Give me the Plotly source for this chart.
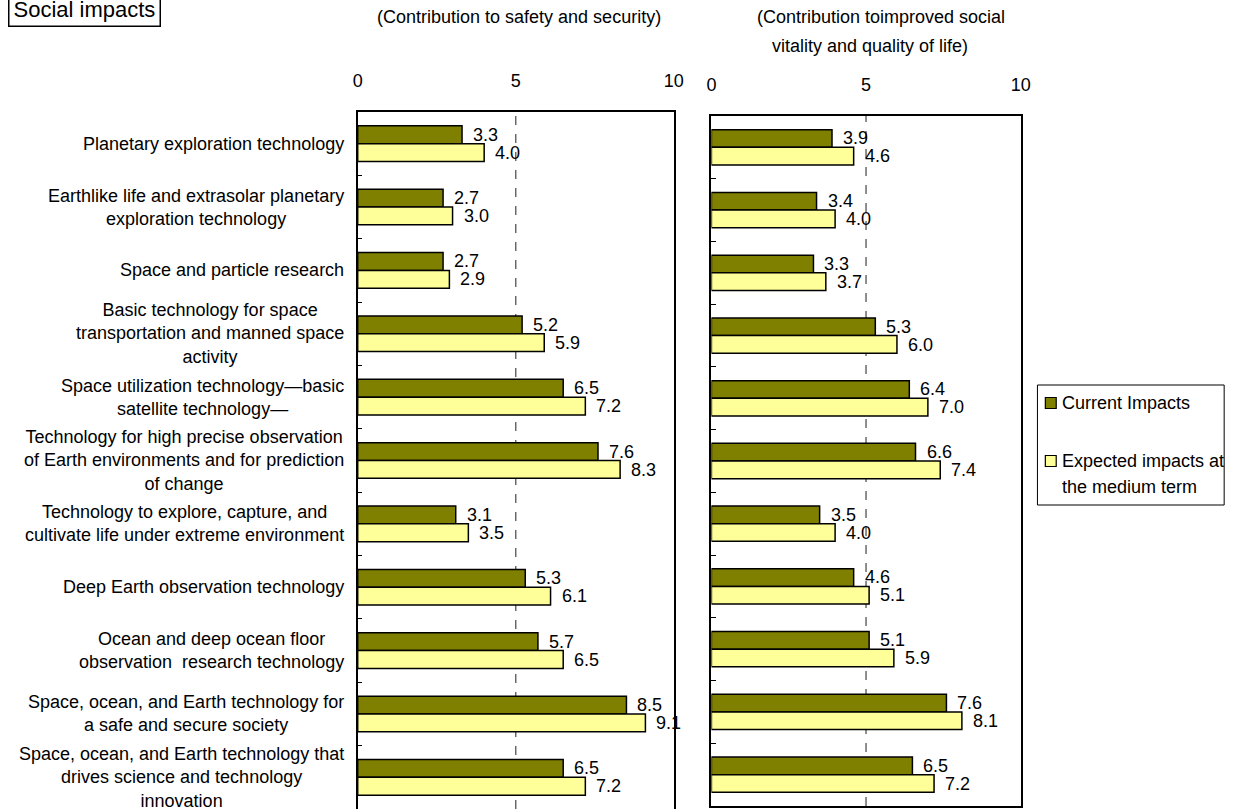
import plotly.graph_objects as go

# Technology areas (rows, top to bottom)
categories = [
    "Planetary exploration technology",
    "Earthlike life and extrasolar planetary<br>exploration technology",
    "Space and particle research",
    "Basic technology for space<br>transportation and manned space<br>activity",
    "Space utilization technology\u2014basic<br>satellite technology\u2014",
    "Technology for high precise observation<br>of Earth environments and for prediction<br>of change",
    "Technology to explore, capture, and<br>cultivate life under extreme environment",
    "Deep Earth observation technology",
    "Ocean and deep ocean floor<br>observation  research technology",
    "Space, ocean, and Earth technology for<br>a safe and secure society",
    "Space, ocean, and Earth technology that<br>drives science and technology<br>innovation",
]

# Contribution to safety and security
safety_current = [3.3, 2.7, 2.7, 5.2, 6.5, 7.6, 3.1, 5.3, 5.7, 8.5, 6.5]
safety_expected = [4.0, 3.0, 2.9, 5.9, 7.2, 8.3, 3.5, 6.1, 6.5, 9.1, 7.2]

# Contribution to improved social vitality and quality of life
vitality_current = [3.9, 3.4, 3.3, 5.3, 6.4, 6.6, 3.5, 4.6, 5.1, 7.6, 6.5]
vitality_expected = [4.6, 4.0, 3.7, 6.0, 7.0, 7.4, 4.0, 5.1, 5.9, 8.1, 7.2]

series_names = ["Current Impacts", "Expected impacts at the medium term"]
x_ticks = [0, 5, 10]
panel_titles = [
    "(Contribution to safety and security)",
    "(Contribution toimproved social",
    "vitality and quality of life)",
]

W, H = 1248, 809
FONT = "Liberation Sans, Arial, sans-serif"
OLIVE = "#808000"
PALE = "#FFFF99"
colors = [OLIVE, PALE]
TXT = 18


def px(x):
    return x / W


def py(y):
    return 1 - y / H


fig = go.Figure()

panels = [
    ("x", "y", [safety_current, safety_expected]),
    ("x2", "y2", [vitality_current, vitality_expected]),
]

annotations = []
for xa, ya, series in panels:
    for k, vals in enumerate(series):
        fig.add_trace(go.Bar(
            y=categories, x=vals, orientation="h",
            name=series_names[k],
            marker=dict(color=colors[k], line=dict(color="black", width=1.5)),
            xaxis=xa, yaxis=ya, showlegend=False,
        ))
        for cat, v in zip(categories, vals):
            annotations.append(dict(
                x=v, y=cat, xref=xa, yref=ya, text=f"{v:.1f}",
                showarrow=False, xanchor="left", yanchor="middle",
                xshift=9, yshift=9 if k == 0 else -9,
                font=dict(family=FONT, size=TXT, color="black"),
            ))

# row labels (lines centred within a right-aligned block)
for cat in categories:
    annotations.append(dict(
        x=px(345), y=cat, xref="paper", yref="y", text=cat,
        showarrow=False, xanchor="right", yanchor="middle", align="center",
        font=dict(family=FONT, size=TXT, color="black"),
    ))

# panel headings
heading_pos = [(520, 17), (887, 17), (876, 46)]
for text, (hx, hy) in zip(panel_titles, heading_pos):
    annotations.append(dict(x=px(hx), y=py(hy), xref="paper", yref="paper",
                            text=text, showarrow=False,
                            xanchor="center", yanchor="middle",
                            font=dict(family=FONT, size=TXT, color="black")))

# section tag
annotations.append(dict(x=px(3), y=py(27), xref="paper", yref="paper",
                        text="Social impacts", showarrow=False,
                        xanchor="left", yanchor="bottom",
                        bordercolor="black", borderwidth=1.5, borderpad=4,
                        font=dict(family=FONT, size=22, color="black")))

# legend (box, swatches and labels)
shapes = [dict(type="rect", xref="paper", yref="paper",
               x0=px(1045), x1=px(1234), y0=py(505), y1=py(385),
               line=dict(color="black", width=1), fillcolor="white")]
legend_rows = [(403, [series_names[0]]), (461, ["Expected impacts at", "the medium term"])]
for k, (yc, lines) in enumerate(legend_rows):
    shapes.append(dict(type="rect", xref="paper", yref="paper",
                       x0=px(1053), x1=px(1064), y0=py(yc + 5.5), y1=py(yc - 5.5),
                       line=dict(color="black", width=1.2), fillcolor=colors[k]))
    for j, line in enumerate(lines):
        annotations.append(dict(x=px(1068), y=py(yc + 26 * j), xref="paper", yref="paper",
                                text=line, showarrow=False, xanchor="left", yanchor="middle",
                                font=dict(family=FONT, size=TXT, color="black")))

# dashed reference line at 5 in both panels
for xa, ya in [("x", "y"), ("x2", "y2")]:
    shapes.append(dict(type="line", xref=xa, yref=f"{ya} domain",
                       x0=5, x1=5, y0=0, y1=1, layer="below",
                       line=dict(color="#444444", width=1.2, dash="dash")))

xaxis_common = dict(
    range=[0, 10], tickvals=x_ticks, ticktext=[str(t) for t in x_ticks],
    side="top", showgrid=False, zeroline=False, ticks="",
    showline=True, linecolor="black", linewidth=1.5,
    ticklabelstandoff=16,
    tickfont=dict(family=FONT, size=TXT, color="black"),
)
yaxis_common = dict(
    type="category", categoryorder="array", categoryarray=categories,
    range=[10.5, -0.5], showticklabels=False, showgrid=False,
    tickson="boundaries", ticks="inside", ticklen=5, tickcolor="black",
    showline=True, mirror=True, linecolor="black", linewidth=1.5,
)

fig.update_layout(
    width=W, height=H,
    margin=dict(l=0, r=0, t=0, b=0),
    paper_bgcolor="white", plot_bgcolor="white",
    barmode="group", bargap=0.4375, bargroupgap=0,
    showlegend=False,
    xaxis=dict(domain=[px(357), px(677)], anchor="y", mirror=False, **xaxis_common),
    xaxis2=dict(domain=[px(715), px(1028)], anchor="y2", mirror=True, **xaxis_common),
    yaxis=dict(domain=[0, py(112)], anchor="x", **yaxis_common),
    yaxis2=dict(domain=[py(806), py(116)], anchor="x2", **yaxis_common),
    annotations=annotations,
    shapes=shapes,
    font=dict(family=FONT, color="black"),
)

fig.write_html("out.html")
